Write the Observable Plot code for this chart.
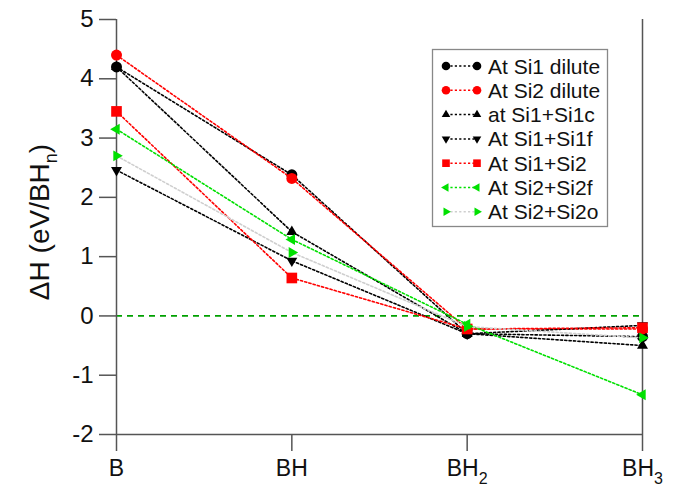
<!DOCTYPE html>
<html><head><meta charset="utf-8">
<script src="https://cdn.jsdelivr.net/npm/d3@7"></script>
<script src="https://cdn.jsdelivr.net/npm/@observablehq/plot@0.6"></script>
<style>body{margin:0;background:#fff}</style>
</head><body><div id="chart"></div>
<script>
// ---- data ----
const categories = ["B", "BH", "BH2", "BH3"];
const seriesNames = ["At Si1 dilute", "At Si2 dilute", "at Si1+Si1c", "At Si1+Si1f", "At Si1+Si2", "At Si2+Si2f", "At Si2+Si2o"];
const si1Dilute = [4.20, 2.38, -0.30, -0.35];
const si2Dilute = [4.40, 2.32, -0.22, -0.22];
const si1Si1c   = [4.20, 1.42, -0.30, -0.50];
const si1Si1f   = [2.46, 0.93, -0.30, -0.16];
const si1Si2    = [3.45, 0.64, -0.22, -0.20];
const si2Si2f   = [3.15, 1.29, -0.14, -1.33];
const si2Si2o   = [2.70, 1.07, -0.18, -0.37];
const yTicks = [-2, -1, 0, 1, 2, 3, 4, 5];
const referenceLevel = 0;

// ---- styles ----
function tri(angle) {
  return {draw(ctx, size) {
    const r = Math.sqrt(size / Math.PI) * 1.15;
    for (let k = 0; k < 3; k++) {
      const a = angle + k * 2 * Math.PI / 3;
      const x = r * Math.cos(a), y = r * Math.sin(a);
      if (k) ctx.lineTo(x, y); else ctx.moveTo(x, y);
    }
    ctx.closePath();
  }};
}
const symUp = tri(-Math.PI / 2), symDown = tri(Math.PI / 2), symLeft = tri(Math.PI), symRight = tri(0);
const green = "#00e000";
const styles = [
  {line: "#000", fill: "#000", symbol: "circle", r: 5.5},
  {line: "#ff0000", fill: "#ff0000", symbol: "circle", r: 5.5},
  {line: "#000", fill: "#000", symbol: symUp, r: 5.5},
  {line: "#000", fill: "#000", symbol: symDown, r: 5.5},
  {line: "#ff0000", fill: "#ff0000", symbol: "square", r: 6},
  {line: green, fill: green, symbol: symLeft, r: 5.5},
  {line: "#cfcfcf", fill: green, symbol: symRight, r: 5.5}
];
const seriesValues = [si1Dilute, si2Dilute, si1Si1c, si1Si1f, si1Si2, si2Si2f, si2Si2o];

const rows = seriesNames.map((name, s) => categories.map((c, i) => ({series: name, s, i, value: seriesValues[s][i]})));

const frameColor = "#555";
const font = "'Liberation Sans', Arial, sans-serif";
const marks = [
  Plot.ruleY([referenceLevel], {x1: 0, x2: 3, stroke: "#00a000", strokeWidth: 1.8, strokeDasharray: "6,5"}),
  Plot.ruleX([0, 3], {y1: -2, y2: 5, stroke: frameColor, strokeWidth: 1.5}),
  Plot.ruleY([-2], {x1: 0, x2: 3, stroke: frameColor, strokeWidth: 1.5}),
  Plot.axisY({ticks: yTicks, tickFormat: d => String(d), tickSize: 17, tickPadding: 6, stroke: frameColor, strokeWidth: 1.5, label: null, color: "#111"}),
  Plot.axisX({ticks: [0, 1, 2, 3], tickFormat: i => categories[i], tickSize: 17, tickPadding: 8, stroke: frameColor, strokeWidth: 1.5, label: null, color: "#111"})
];
rows.forEach((data, s) => {
  const st = styles[s];
  marks.push(Plot.line(data, {x: "i", y: "value", stroke: st.line, strokeWidth: 1.6, strokeDasharray: "2.2,2.2"}));
  marks.push(Plot.dot(data, {x: "i", y: "value", symbol: st.symbol, fill: st.fill, r: st.r, stroke: "none"}));
});

const svg = Plot.plot({
  width: 675, height: 488,
  marginLeft: 116, marginRight: 33, marginTop: 19, marginBottom: 54,
  style: {fontFamily: font, background: "#fff", overflow: "visible"},
  x: {type: "linear", domain: [0, 3]},
  y: {domain: [-2, 5]},
  marks
});
document.getElementById("chart").appendChild(svg);

const root = d3.select(svg);
root.selectAll('g[aria-label="y-axis tick label"] text').style("font-size", "24px");
root.selectAll('g[aria-label="x-axis tick label"] text').style("font-size", "23px");
// subscripts on x tick labels
root.selectAll('g[aria-label="x-axis tick label"] text').each(function() {
  const t = d3.select(this);
  const s = t.text();
  const m = s.match(/^(\D+)(\d)$/);
  if (m) {
    t.text(m[1]);
    t.append("tspan").style("font-size", "16px").attr("dy", 8).text(m[2]);
  }
});

// y-axis label
const yl = root.append("text")
  .attr("transform", "translate(49,222) rotate(-90)")
  .attr("text-anchor", "middle")
  .style("font-size", "28px")
  .attr("fill", "#111")
  .attr("font-family", font);
yl.append("tspan").text("\u0394H (eV/BH");
yl.append("tspan").style("font-size", "18px").attr("dy", 8).text("n");
yl.append("tspan").attr("dy", -8).text(")");

// legend
const lg = root.append("g").attr("font-family", font).attr("text-anchor", "start");
lg.append("rect").attr("x", 432.5).attr("y", 49.5).attr("width", 175).attr("height", 177)
  .attr("fill", "#fff").attr("stroke", "#888").attr("stroke-width", 1.3);
seriesNames.forEach((name, s) => {
  const st = styles[s];
  const y = 66 + s * 24.3;
  lg.append("line").attr("x1", 446).attr("x2", 477).attr("y1", y).attr("y2", y)
    .attr("stroke", st.line).attr("stroke-width", 1.5).attr("stroke-dasharray", "2.2,2.2");
  const symType = st.symbol === "circle" ? d3.symbolCircle : st.symbol === "square" ? d3.symbolSquare : st.symbol;
  const path = d3.symbol(symType, Math.PI * 4.3 * 4.3)();
  [446, 477].forEach(x => lg.append("path").attr("d", path).attr("transform", `translate(${x},${y})`).attr("fill", st.fill));
  lg.append("text").attr("x", 488).attr("y", y).attr("dy", "0.36em").style("font-size", "21px").attr("fill", "#111").text(name);
});
</script>
</body></html>
